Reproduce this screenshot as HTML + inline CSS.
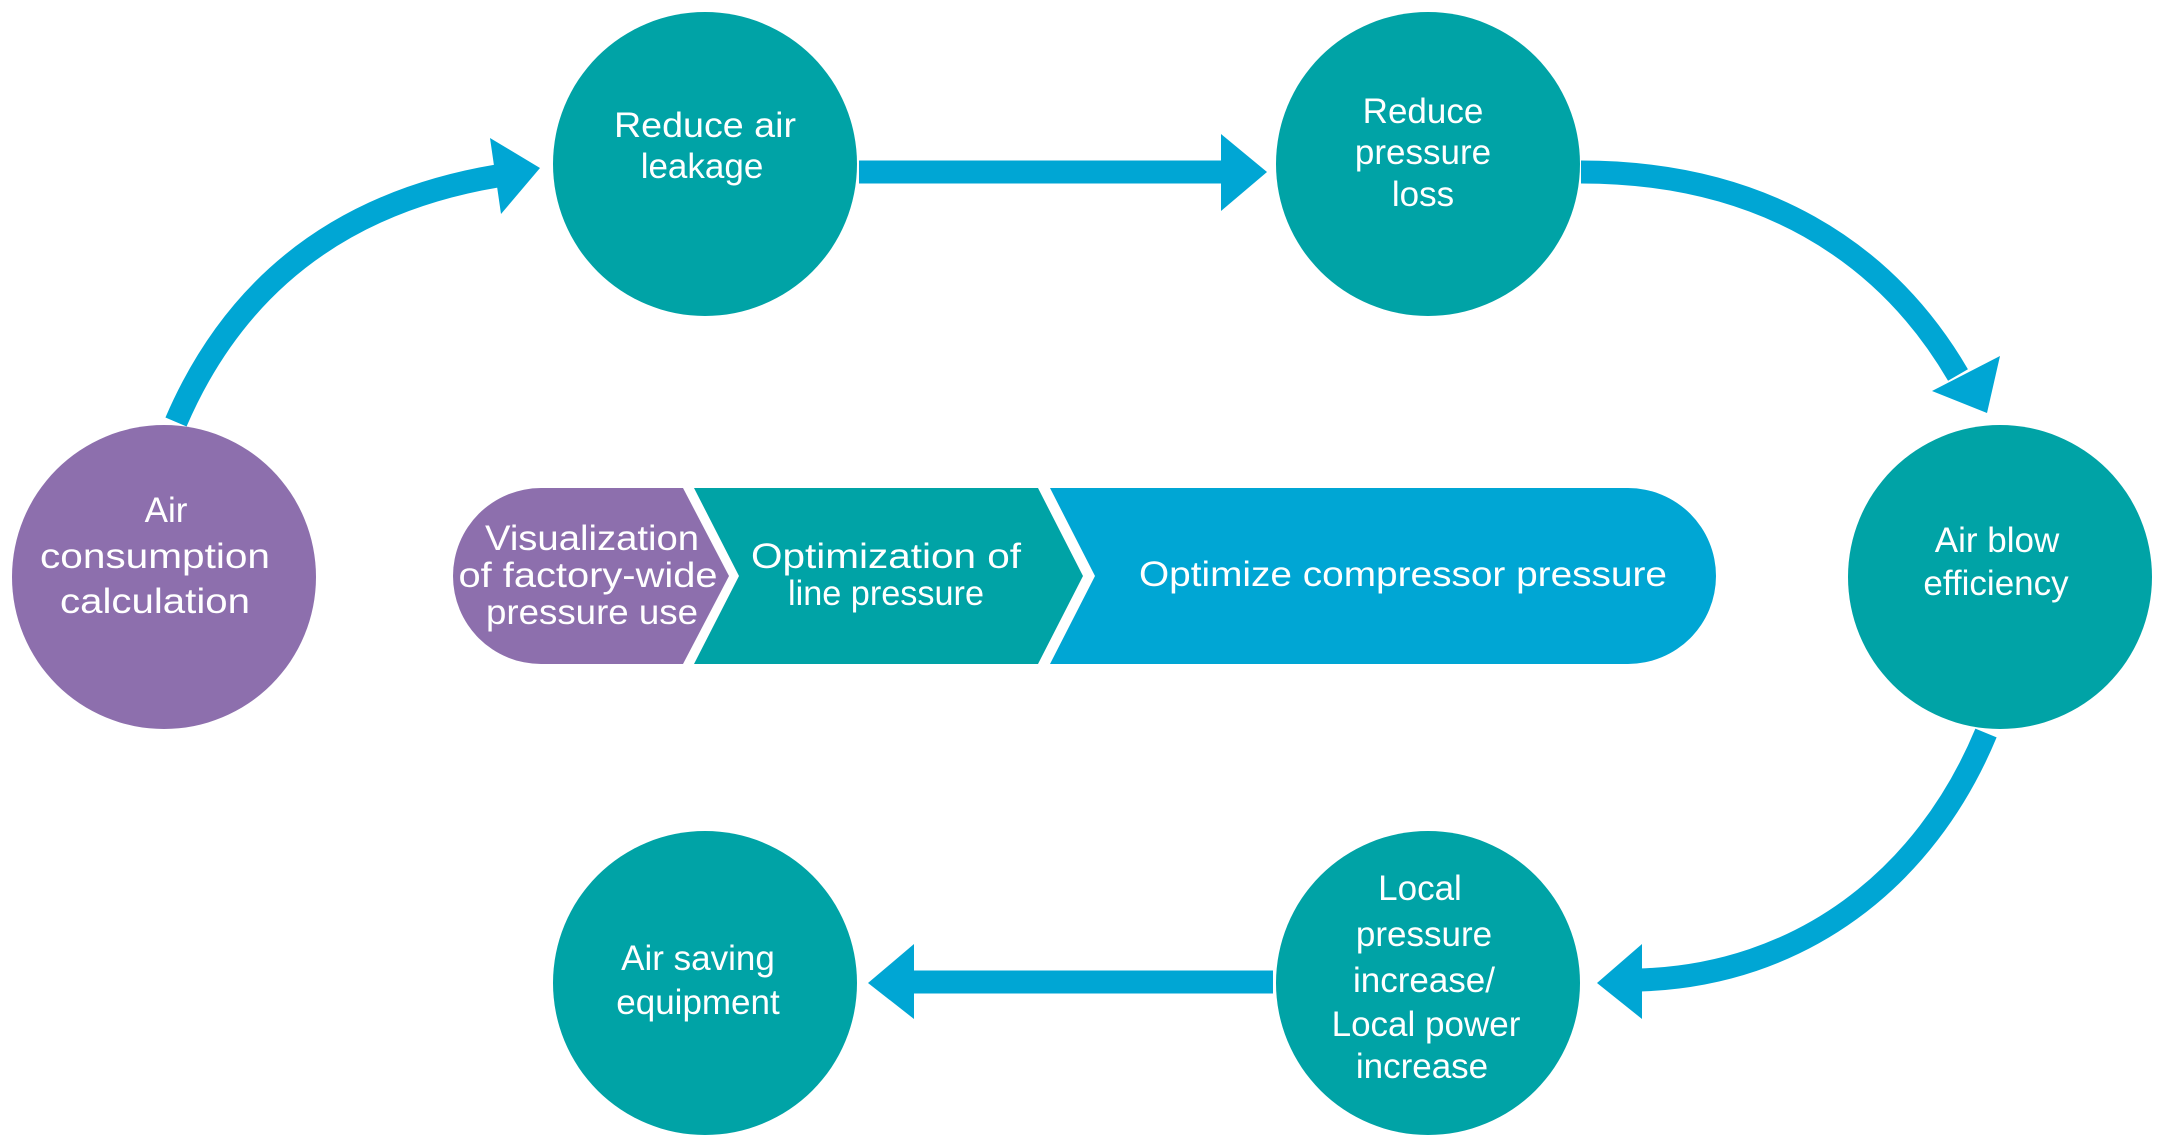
<!DOCTYPE html>
<html><head><meta charset="utf-8"><style>
html,body{margin:0;padding:0;background:#fff;}
svg{display:block;}
text{font-family:"Liberation Sans",sans-serif;fill:#fff;font-size:35px;text-anchor:middle;}
</style></head><body>
<svg width="2164" height="1147" viewBox="0 0 2164 1147" xmlns="http://www.w3.org/2000/svg">
<g fill="none" stroke="#00a6d4" stroke-width="23">
<path d="M176,422 Q265,215 497,176"/>
<path d="M859,172 L1224,172"/>
<path d="M1581,172 C1760,172 1885,250 1958,375"/>
<path d="M1986,733 C1925,880 1800,975 1640,980"/>
<path d="M1273,982 L912,982"/>
</g>
<g fill="#00a6d4">
<polygon points="540,168 490,138 501,214"/>
<polygon points="1267,172 1221,134 1221,211"/>
<polygon points="1987,413 2000,356 1932,391"/>
<polygon points="1597,983 1642,944 1642,1019"/>
<polygon points="868,983 914,944 914,1019"/>
</g>
<path d="M1050,488 L1628,488 A88,88 0 0 1 1628,664 L1050,664 L1095,576 Z" fill="#00a6d4"/>
<path d="M694,488 L1038,488 L1083,576 L1038,664 L694,664 L739,576 Z" fill="#00a3a6"/>
<path d="M541,488 L683,488 L729,576 L683,664 L541,664 A88,88 0 0 1 541,488 Z" fill="#8d6fad"/>
<text x="592" y="550" font-size="38" textLength="214" lengthAdjust="spacingAndGlyphs">Visualization</text>
<text x="588" y="587" font-size="38" textLength="259" lengthAdjust="spacingAndGlyphs">of factory-wide</text>
<text x="592" y="624" font-size="38" textLength="212" lengthAdjust="spacingAndGlyphs">pressure use</text>
<text x="886" y="568" textLength="270" lengthAdjust="spacingAndGlyphs">Optimization of</text>
<text x="886" y="605" textLength="196" lengthAdjust="spacingAndGlyphs">line pressure</text>
<text x="1403" y="586" textLength="528" lengthAdjust="spacingAndGlyphs">Optimize compressor pressure</text>
<circle cx="164" cy="577" r="152" fill="#8d6fad"/>
<circle cx="705" cy="164" r="152" fill="#00a3a6"/>
<circle cx="1428" cy="164" r="152" fill="#00a3a6"/>
<circle cx="2000" cy="577" r="152" fill="#00a3a6"/>
<circle cx="1428" cy="983" r="152" fill="#00a3a6"/>
<circle cx="705" cy="983" r="152" fill="#00a3a6"/>
<g>
<text x="166" y="522">Air</text>
<text x="155" y="568" textLength="230" lengthAdjust="spacingAndGlyphs">consumption</text>
<text x="155" y="613" textLength="190" lengthAdjust="spacingAndGlyphs">calculation</text>
<text x="705" y="137" textLength="182" lengthAdjust="spacingAndGlyphs">Reduce air</text>
<text x="702" y="178">leakage</text>
<text x="1423" y="123">Reduce</text>
<text x="1423" y="164">pressure</text>
<text x="1423" y="206">loss</text>
<text x="1997" y="552">Air blow</text>
<text x="1996" y="595">efficiency</text>
<text x="698" y="970">Air saving</text>
<text x="698" y="1014">equipment</text>
<text x="1420" y="900">Local</text>
<text x="1424" y="946">pressure</text>
<text x="1424" y="992">increase/</text>
<text x="1426" y="1036">Local power</text>
<text x="1422" y="1078">increase</text>
</g>
</svg>
</body></html>
